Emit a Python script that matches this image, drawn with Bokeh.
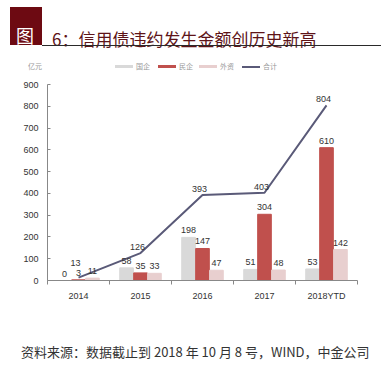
from bokeh.plotting import figure
from bokeh.layouts import column
from bokeh.models import Range1d, FixedTicker, ColumnDataSource, LabelSet, Div
from bokeh.core.properties import value
from bokeh.embed import file_html
from bokeh.resources import INLINE
from bokeh.transform import dodge

# ---- data ----
categories = ["2014", "2015", "2016", "2017", "2018YTD"]
soe = [0, 58, 198, 51, 53]          # 国企
private = [3, 35, 147, 304, 610]    # 民企
foreign = [11, 33, 47, 48, 142]     # 外资
total = [13, 126, 393, 403, 804]    # 合计
series_names = ["国企", "民企", "外资", "合计"]
y_ticks = [0, 100, 200, 300, 400, 500, 600, 700, 800, 900]
y_unit = "亿元"
title_tag = "图"
title_text = "6：信用债违约发生金额创历史新高"
source_text = "资料来源：数据截止到 2018 年 10 月 8 号，WIND，中金公司"

# ---- styles ----
C_SOE = "#d9d9d9"
C_PRI = "#c0504d"
C_FOR = "#e8cfcf"
C_TOT = "#5a5a78"
NUM_FONT = "Liberation Sans"
CJK_FONT = "Noto Sans CJK SC"
line_label_dy = [12, 3, 3, 3, 3]
W_ALL = 381


def abs_text(txt, left, top, size, color, extra=""):
    return (f'<span style="position:absolute;left:{left}px;top:{top}px;font-size:{size}px;'
            f'line-height:{size}px;color:{color};white-space:nowrap;{extra}">{txt}</span>')


def abs_box(left, top, w, h, color):
    return (f'<div style="position:absolute;left:{left}px;top:{top}px;width:{w}px;'
            f'height:{h}px;background:{color};"></div>')


# ================= top block: title, unit, legend =================
TOP_H = 76
legend_items = [(series_names[0], C_SOE, 115, 3), (series_names[1], C_PRI, 158, 3),
                (series_names[2], C_FOR, 199, 3), (series_names[3], C_TOT, 242, 2)]
top_html = [f'<div style="position:relative;width:{W_ALL}px;height:{TOP_H}px;'
            f'font-family:\'{CJK_FONT}\';overflow:hidden;">']
top_html.append(abs_box(10, 7, 32, 38, "#6d0a12"))
top_html.append(abs_text(title_tag, 16, 26, 18, "#ffffff"))
top_html.append(abs_text(title_text, 52, 30, 17, "#5e1418"))
top_html.append(abs_box(42, 45, W_ALL - 42, 1, "#2a2a2a"))
top_html.append(abs_text(y_unit, 28, 63, 7, "#999999"))
for name, col, x0, th in legend_items:
    top_html.append(abs_box(x0, 66 - th // 2 - (th % 2) + 1, 18, th, col))
    top_html.append(abs_text(name, x0 + 21, 63, 7, "#999999"))
top_html.append('</div>')
top_div = Div(text="".join(top_html), width=W_ALL, height=TOP_H, margin=0)

# ================= main chart =================
xs = list(range(len(categories)))
src = ColumnDataSource(dict(
    x=xs, soe=soe, private=private, foreign=foreign, total=total,
    soe_t=[str(v) for v in soe], pri_t=[str(v) for v in private],
    for_t=[str(v) for v in foreign], tot_t=[str(v) for v in total],
    dy=line_label_dy,
))

p = figure(width=W_ALL, height=229, output_backend="svg", toolbar_location=None,
           x_range=Range1d(-0.5, len(categories) - 0.5), y_range=Range1d(0, 900),
           min_border_left=47, min_border_right=24, min_border_top=8, min_border_bottom=25)
p.outline_line_color = None
p.grid.visible = False

W = 0.22
OFF = 0.225
p.vbar(x=dodge("x", -OFF), top="soe", width=W, source=src, color=C_SOE)
p.vbar(x="x", top="private", width=W, source=src, color=C_PRI)
p.vbar(x=dodge("x", OFF), top="foreign", width=W, source=src, color=C_FOR)
p.line(x="x", y="total", source=src, line_color=C_TOT, line_width=2)

xa = p.xaxis[0]
xa.ticker = FixedTicker(ticks=xs, minor_ticks=[i - 0.5 for i in range(len(categories) + 1)])
xa.major_label_overrides = {i: c for i, c in enumerate(categories)}
xa.major_tick_line_color = None
xa.minor_tick_out = 4
xa.minor_tick_in = 0
xa.minor_tick_line_color = "#888888"
xa.axis_line_color = "#888888"
xa.major_label_standoff = 4
xa.major_label_text_font = NUM_FONT
xa.major_label_text_font_size = "9px"
xa.major_label_text_color = "#333333"

ya = p.yaxis[0]
ya.ticker = FixedTicker(ticks=y_ticks)
ya.minor_tick_line_color = None
ya.major_tick_in = 3
ya.major_tick_out = 0
ya.major_tick_line_color = "#888888"
ya.axis_line_color = "#888888"
ya.major_label_standoff = 9
ya.major_label_text_font = NUM_FONT
ya.major_label_text_font_size = "9px"
ya.major_label_text_color = "#333333"

lab_kw = dict(source=src, text_font=value(NUM_FONT), text_font_size="9px",
              text_color="#333333", text_align="center", text_baseline="bottom")
p.add_layout(LabelSet(x=dodge("x", -OFF), y="soe", text="soe_t", y_offset=4, **lab_kw))
p.add_layout(LabelSet(x="x", y="private", text="pri_t", y_offset=4, **lab_kw))
p.add_layout(LabelSet(x=dodge("x", OFF), y="foreign", text="for_t", y_offset=4, **lab_kw))
p.add_layout(LabelSet(x="x", y="total", text="tot_t", y_offset="dy", x_offset=-3, **lab_kw))

# ================= bottom block: source note =================
BOT_H = 62
bot_html = (f'<div style="position:relative;width:{W_ALL}px;height:{BOT_H}px;'
            f'font-family:\'{CJK_FONT}\';overflow:hidden;">'
            + abs_text(source_text, 21, 40, 13, "#333333") + '</div>')
bot_div = Div(text=bot_html, width=W_ALL, height=BOT_H, margin=0)

layout = column(top_div, p, bot_div, spacing=0)
open("out.html", "w").write(file_html(layout, INLINE))
